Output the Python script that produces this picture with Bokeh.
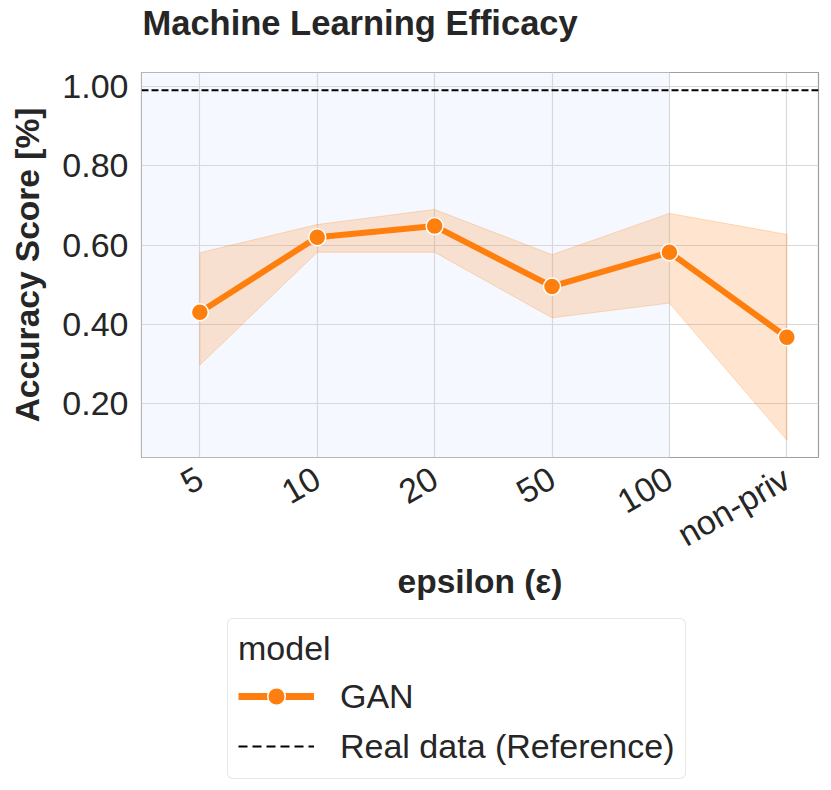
from bokeh.plotting import figure
from bokeh.layouts import column
from bokeh.models import (Range1d, FixedTicker, PrintfTickFormatter, Span, BoxAnnotation,
                          Legend, LegendItem, Label)
from bokeh.embed import file_html
from bokeh.resources import INLINE
import math

# ---- data ----
eps_labels = ["5", "10", "20", "50", "100", "non-priv"]
gan_mean = [0.431, 0.620, 0.648, 0.496, 0.582, 0.368]
gan_upper = [0.581, 0.652, 0.690, 0.576, 0.680, 0.627]
gan_lower = [0.298, 0.582, 0.582, 0.417, 0.454, 0.109]
real_reference = 0.99
y_ticks = [0.2, 0.4, 0.6, 0.8, 1.0]
private_until = "100"
title_text = "Machine Learning Efficacy"

FONT = "Liberation Sans"
TXT = "#262626"
ORANGE = "#ff7f0e"
FS_TICK = "34px"
FS_LAB = "33.5px"
FS_TITLE = "34.5px"
FS_LEG = "34px"

xs = list(range(len(eps_labels)))

# ---- title strip ----
t = figure(width=822, height=50, output_backend="svg", toolbar_location=None,
           x_axis_type=None, y_axis_type=None, x_range=Range1d(0, 1), y_range=Range1d(0, 1),
           min_border=0, outline_line_color=None,
           background_fill_color="white", border_fill_color="white")
t.grid.visible = False
t.add_layout(Label(x=1, y=28, x_units="screen", y_units="screen", text=title_text,
                   text_font=FONT, text_font_size=FS_TITLE, text_font_style="bold",
                   text_color=TXT, text_baseline="alphabetic", text_align="left"))

# ---- main chart ----
p = figure(frame_width=677, frame_height=385, output_backend="svg", toolbar_location=None,
           x_range=Range1d(-0.497, 5.27), y_range=Range1d(0.065, 1.035),
           min_border_left=141, min_border_right=4, min_border_top=22, min_border_bottom=153,
           background_fill_color="white", border_fill_color="white")

p.outline_line_color = "#9e9e9e"
p.outline_line_width = 1.2

# private-epsilon shading (drawn beneath the grid)
p.add_layout(BoxAnnotation(left=-0.497, right=eps_labels.index(private_until),
                           fill_color="#f5f9ff", fill_alpha=1.0, line_color=None, level="image"))

for ax in (p.xaxis[0], p.yaxis[0]):
    ax.axis_line_color = None
    ax.major_tick_line_color = None
    ax.minor_tick_line_color = None
    ax.major_tick_out = 0
    ax.major_tick_in = 0
    ax.minor_tick_out = 0
    ax.major_label_text_font = FONT
    ax.major_label_text_font_size = FS_TICK
    ax.major_label_text_color = TXT
    ax.axis_label_text_font = FONT
    ax.axis_label_text_font_size = FS_LAB
    ax.axis_label_text_font_style = "bold"
    ax.axis_label_text_color = TXT

p.xaxis.ticker = FixedTicker(ticks=xs)
p.xaxis.major_label_overrides = {i: lab for i, lab in enumerate(eps_labels)}
p.xaxis.major_label_orientation = math.pi / 6
p.xaxis.major_label_standoff = 18
p.xaxis.axis_label = "epsilon (ε)"
p.xaxis.axis_label_standoff = -10

p.yaxis.ticker = FixedTicker(ticks=y_ticks)
p.yaxis.formatter = PrintfTickFormatter(format="%.2f")
p.yaxis.major_label_standoff = 13
p.yaxis.axis_label = "Accuracy Score [%]"
p.yaxis.axis_label_standoff = 13

p.grid.grid_line_color = "#d8d8dc"
p.grid.grid_line_width = 1.2
p.xgrid.ticker = FixedTicker(ticks=xs)
p.ygrid.ticker = FixedTicker(ticks=y_ticks)

# confidence band
band_x = xs + xs[::-1]
band_y = gan_upper + gan_lower[::-1]
p.patch(band_x, band_y, fill_color=ORANGE, fill_alpha=0.2, line_color=ORANGE, line_alpha=0.25, line_width=1)

# reference line
p.add_layout(Span(location=real_reference, dimension="width", line_color="black",
                  line_width=2, line_dash="7 3"))

p.line(xs, gan_mean, line_color=ORANGE, line_width=6)
p.scatter(xs, gan_mean, size=17, fill_color=ORANGE, line_color="white", line_width=1.5)

# ---- legend strip below the chart (its data sits outside this strip's view) ----
q = figure(width=822, height=180, output_backend="svg", toolbar_location=None,
           x_axis_type=None, y_axis_type=None, x_range=Range1d(100, 101), y_range=Range1d(100, 101),
           min_border=0, outline_line_color=None,
           background_fill_color="white", border_fill_color="white")
q.grid.visible = False
leg_line = q.line(xs, gan_mean, line_color=ORANGE, line_width=7)
leg_pts = q.scatter(xs, gan_mean, size=17, fill_color=ORANGE, line_color="white", line_width=1.5)
leg_ref = q.line(xs, [real_reference] * len(xs), line_color="black", line_width=2, line_dash="9 5")

legend = Legend(items=[LegendItem(label="GAN", renderers=[leg_line, leg_pts]),
                       LegendItem(label="Real data (Reference)", renderers=[leg_ref])],
                title="model", location=(86, 11), orientation="vertical")
legend.title_text_font = FONT
legend.title_text_font_size = FS_LEG
legend.title_text_font_style = "normal"
legend.title_text_color = TXT
legend.title_standoff = 6
legend.label_text_font = FONT
legend.label_text_font_size = FS_LEG
legend.label_text_color = TXT
legend.glyph_width = 76
legend.glyph_height = 44
legend.label_height = 38
legend.label_standoff = 26
legend.spacing = 6
legend.padding = 10
legend.margin = 0
legend.border_line_color = "#d0d0d0"
legend.border_line_width = 1.2
legend.border_radius = 6
legend.background_fill_color = "white"
legend.background_fill_alpha = 1.0
q.add_layout(legend)

layout = column(t, p, q, spacing=0)
open("out.html", "w").write(file_html(layout, INLINE))
